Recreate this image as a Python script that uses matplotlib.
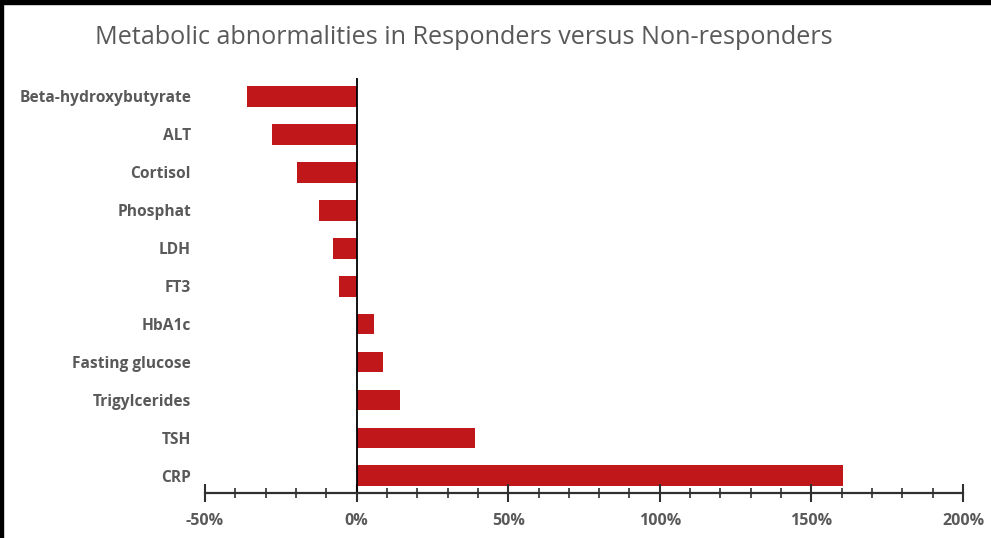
import matplotlib.pyplot as plt
from matplotlib.patches import Rectangle
from matplotlib.ticker import MultipleLocator, FuncFormatter

categories = ["Beta-hydroxybutyrate", "ALT", "Cortisol", "Phosphat", "LDH", "FT3",
              "HbA1c", "Fasting glucose", "Trigylcerides", "TSH", "CRP"]
values = [-36.3, -27.8, -19.8, -12.5, -7.9, -5.9, 5.6, 8.6, 14.2, 38.9, 160.3]

W, H = 991, 538
fig = plt.figure(figsize=(W / 100, H / 100), dpi=100)
ax = fig.add_axes([205 / W, 1 - 493 / H, (963 - 205) / W, (493 - 78) / H])

y = list(range(len(categories)))
ax.barh(y, values, height=0.55, color="#C0171A")
ax.set_ylim(len(categories) - 0.55, -0.48)
ax.set_xlim(-50, 200)

ax.axvline(0, color="black", lw=1.3)
for s in ["left", "right", "top"]:
    ax.spines[s].set_visible(False)
ax.spines["bottom"].set_linewidth(1.6)
ax.spines["bottom"].set_color("#303030")

ax.set_yticks(y)
ax.set_yticklabels(categories, fontfamily="Open Sans", fontweight="bold",
                   fontsize=11.2, color="#595959")
ax.tick_params(axis="y", length=0, pad=10)

ax.xaxis.set_major_locator(MultipleLocator(50))
ax.xaxis.set_minor_locator(MultipleLocator(10))
ax.xaxis.set_major_formatter(FuncFormatter(lambda v, p: f"{v:.0f}%"))
ax.tick_params(axis="x", which="major", direction="inout", length=13, width=1.5,
               color="#303030", pad=8, labelsize=11.5, labelcolor="#595959")
ax.tick_params(axis="x", which="minor", direction="inout", length=7, width=1.2,
               color="#303030")
for lab in ax.get_xticklabels():
    lab.set_fontfamily("Open Sans")
    lab.set_fontweight("bold")

fig.text(95 / W, 1 - 38 / H, "Metabolic abnormalities in Responders versus Non-responders",
         fontfamily="Open Sans", fontsize=18.1, color="#595959", va="center", ha="left")

# black frame edges from the screenshot
fig.patches.append(Rectangle((0, 1 - 4 / H), 1, 4 / H, transform=fig.transFigure,
                             color="black", zorder=10))
fig.patches.append(Rectangle((0, 0), 3 / W, 1, transform=fig.transFigure,
                             color="black", zorder=10))

fig.savefig("out.png", dpi=100)
